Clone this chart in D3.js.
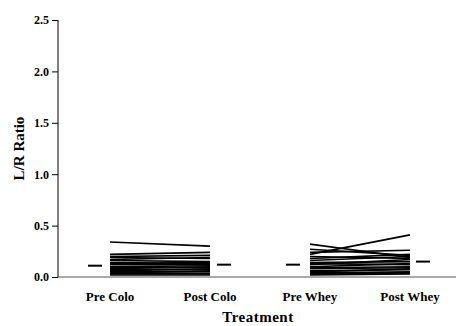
<!DOCTYPE html>
<html><head><meta charset="utf-8">
<script src="https://cdn.jsdelivr.net/npm/d3@7"></script>
<style>body{margin:0;background:#fff}svg{display:block}
svg text{font-family:"Liberation Serif","Tinos","Times New Roman",serif;font-weight:bold;fill:#000}</style>
</head><body>
<script>
const categories = ["Pre Colo", "Post Colo", "Pre Whey", "Post Whey"];
const yTicks = [0, 0.5, 1.0, 1.5, 2.0, 2.5];
const preColo  = [0.34,0.22,0.20,0.19,0.17,0.16,0.14,0.13,0.12,0.10,0.09,0.08,0.07,0.06,0.05,0.04,0.03,0.02];
const postColo = [0.30,0.24,0.21,0.18,0.19,0.15,0.13,0.14,0.12,0.11,0.09,0.10,0.07,0.08,0.05,0.06,0.03,0.02];
const preWhey  = [0.32,0.27,0.24,0.22,0.20,0.18,0.16,0.14,0.13,0.12,0.10,0.09,0.08,0.06,0.05,0.04,0.03,0.02];
const postWhey = [0.19,0.21,0.26,0.41,0.18,0.22,0.20,0.15,0.12,0.17,0.13,0.10,0.09,0.07,0.08,0.05,0.04,0.03];
const means = [0.11, 0.12, 0.12, 0.15];

const W = 456, H = 326;
const svg = d3.select("body").append("svg").attr("width", W).attr("height", H);

const y = d3.scaleLinear().domain([0, 2.5]).range([277, 20]);
const x = d3.scalePoint().domain(categories).range([110, 410]);
const x0 = 58;

// axes
const yAxis = svg.append("g").attr("transform", `translate(${x0},0)`)
  .call(d3.axisLeft(y).tickValues(yTicks).tickFormat(d3.format(".1f")).tickSize(6).tickPadding(3));
yAxis.select(".domain").remove();
yAxis.attr("font-family", null).attr("font-size", null);
yAxis.selectAll("text").style("font-size", "12px");
yAxis.selectAll("line").attr("stroke", "#000");
svg.append("line").attr("x1", x0).attr("x2", x0).attr("y1", y(2.5)).attr("y2", y(0)).attr("stroke", "#000").attr("stroke-width", 1);
svg.append("line").attr("x1", x0).attr("x2", W).attr("y1", y(0)).attr("y2", y(0)).attr("stroke", "#555").attr("stroke-width", 1);

// category labels
svg.selectAll("text.cat").data(categories).enter().append("text")
  .attr("class", "cat").attr("x", d => x(d)).attr("y", 301)
  .attr("text-anchor", "middle").style("font-size", "13px")
  .text(d => d);

svg.append("text").attr("x", 258).attr("y", 322).attr("text-anchor", "middle")
  .style("font-size", "15px").style("letter-spacing", "0.5px").text("Treatment");
svg.append("text").attr("transform", `translate(24,${y(1.25)}) rotate(-90)`).attr("text-anchor", "middle")
  .style("font-size", "15px").text("L/R Ratio");

// subject lines
const pairs = [[preColo, postColo, 0, 1], [preWhey, postWhey, 2, 3]];
pairs.forEach(([a, b, i, j]) => {
  svg.append("g").selectAll("line").data(a.map((v, k) => [v, b[k]])).enter().append("line")
    .attr("x1", x(categories[i])).attr("x2", x(categories[j]))
    .attr("y1", d => y(d[0])).attr("y2", d => y(d[1]))
    .attr("stroke", "#000").attr("stroke-width", 1.6);
});

// means
const offs = [-15, 14, -17, 13];
svg.append("g").selectAll("line").data(means).enter().append("line")
  .attr("x1", (d, i) => x(categories[i]) + offs[i] - 7)
  .attr("x2", (d, i) => x(categories[i]) + offs[i] + 7)
  .attr("y1", d => y(d)).attr("y2", d => y(d))
  .attr("stroke", "#000").attr("stroke-width", 2);
</script>
</body></html>
